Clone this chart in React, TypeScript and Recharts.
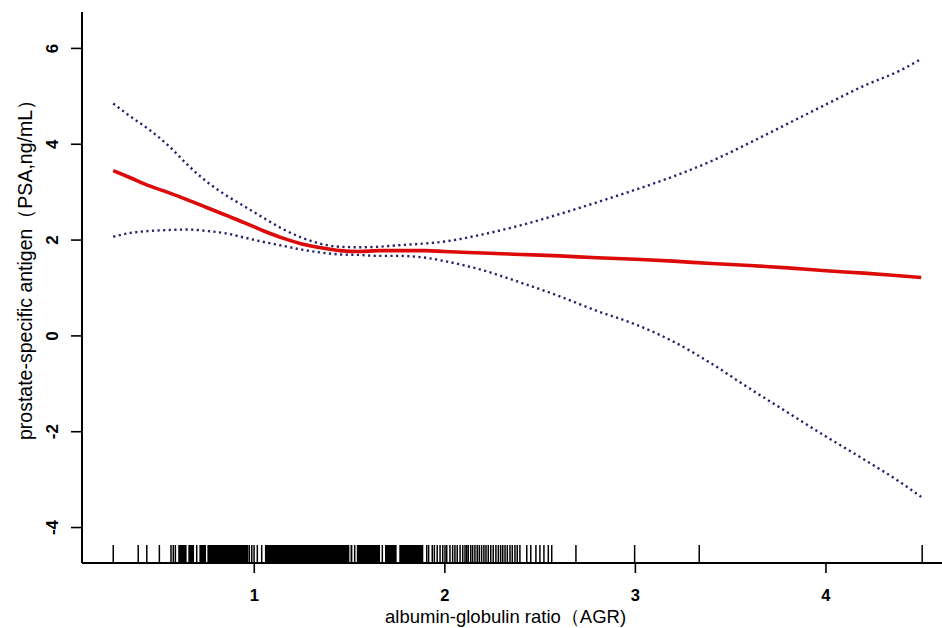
import { ComposedChart, Line, ReferenceArea, Scatter, XAxis, YAxis } from "recharts";

const agr = [0.26, 0.35, 0.45, 0.55, 0.65, 0.75, 0.85, 0.95, 1.05, 1.15, 1.25, 1.35, 1.45, 1.55, 1.65, 1.75, 1.9, 2.0, 2.2, 2.4, 2.6, 2.8, 3.0, 3.2, 3.4, 3.6, 3.8, 4.0, 4.2, 4.4, 4.5];
const fitted = [3.45, 3.3, 3.13, 2.99, 2.84, 2.68, 2.52, 2.36, 2.19, 2.04, 1.92, 1.84, 1.78, 1.76, 1.78, 1.78, 1.78, 1.76, 1.73, 1.7, 1.67, 1.63, 1.6, 1.56, 1.51, 1.47, 1.42, 1.36, 1.31, 1.25, 1.22];
const upper = [4.85, 4.58, 4.3, 3.97, 3.57, 3.22, 2.94, 2.7, 2.46, 2.23, 2.05, 1.92, 1.86, 1.85, 1.86, 1.89, 1.93, 1.97, 2.12, 2.31, 2.54, 2.79, 3.05, 3.33, 3.65, 4.03, 4.43, 4.83, 5.22, 5.56, 5.78];
const lower = [2.07, 2.15, 2.19, 2.21, 2.22, 2.19, 2.14, 2.05, 1.96, 1.88, 1.8, 1.74, 1.7, 1.69, 1.67, 1.67, 1.63, 1.56, 1.37, 1.11, 0.83, 0.52, 0.24, -0.12, -0.58, -1.1, -1.6, -2.1, -2.58, -3.08, -3.36];

// rug: single observations and the stretches where ticks merge into solid black
const rugTicks = [0.26, 0.391, 0.436, 0.502, 0.563, 0.575, 0.586, 0.698, 0.974, 0.987, 0.999, 1.016, 1.039, 1.672, 1.905, 1.915, 1.934, 1.945, 1.96, 1.975, 1.989, 2.001, 2.01, 2.027, 2.041, 2.053, 2.065, 2.08, 2.094, 2.106, 2.115, 2.123, 2.136, 2.146, 2.158, 2.17, 2.181, 2.193, 2.205, 2.216, 2.228, 2.241, 2.254, 2.268, 2.281, 2.293, 2.304, 2.316, 2.328, 2.342, 2.354, 2.368, 2.38, 2.394, 2.43, 2.451, 2.478, 2.499, 2.52, 2.543, 2.561, 2.688, 2.996, 3.335, 4.505];
const rugBlocks: [number, number][] = [
  [0.601, 0.645], [0.654, 0.684], [0.712, 0.747], [0.754, 0.969], [1.056, 1.499],
  [1.505, 1.515], [1.523, 1.531], [1.538, 1.66], [1.686, 1.747], [1.761, 1.887],
];

const xTicks = [1, 2, 3, 4];
const yTicks = [-4, -2, 0, 2, 4, 6];

const X_MIN = 0.096;
const X_MAX = 4.609;
const Y_MIN = -4.74;
const Y_MAX = 6.76;

const FONT = "'Liberation Sans', Arial, sans-serif";
const CI_COLOR = "#25256e";

const data = agr.map((x, i) => ({ x, fit: fitted[i], hi: upper[i], lo: lower[i] }));
const rugData = rugTicks.map((x) => ({ x, y: Y_MIN }));

function YTick({ x, y, payload }: any) {
  return (
    <text
      x={x}
      y={y}
      transform={`rotate(-90, ${x}, ${y})`}
      textAnchor="middle"
      fontFamily={FONT}
      fontWeight="bold"
      fontSize={17}
      fill="#000"
    >
      {payload.value}
    </text>
  );
}

function XTick({ x, y, payload }: any) {
  return (
    <text x={x} y={y} dy="0.71em" textAnchor="middle" fontFamily={FONT} fontWeight="bold" fontSize={16.5} fill="#000">
      {payload.value}
    </text>
  );
}

function RugTick(props: any) {
  const { cx, cy } = props;
  return <line x1={cx} x2={cx} y1={cy} y2={cy - 18} stroke="#000" strokeWidth={1.5} />;
}

function RugBlock(props: any) {
  const { x, y, width, height } = props;
  return <rect x={x} y={y + height - 18} width={Math.max(width, 1)} height={18} fill="#000" />;
}

export default function App() {
  return (
    <div style={{ position: "absolute", left: 0, top: 0, width: 942, height: 628, background: "#fff" }}>
      <ComposedChart width={942} height={628} data={data} margin={{ top: 12, right: 0, bottom: 0, left: 0 }}>
        <XAxis
          type="number"
          dataKey="x"
          domain={[X_MIN, X_MAX]}
          allowDataOverflow
          ticks={xTicks}
          interval={0}
          height={65}
          tickSize={10}
          tickMargin={16}
          tick={<XTick />}
          axisLine={{ stroke: "#000", strokeWidth: 2 }}
          tickLine={{ stroke: "#000", strokeWidth: 1.6 }}
        />
        <YAxis
          type="number"
          domain={[Y_MIN, Y_MAX]}
          allowDataOverflow
          ticks={yTicks}
          interval={0}
          width={82}
          tickSize={11}
          tickMargin={13}
          tick={<YTick />}
          axisLine={{ stroke: "#000", strokeWidth: 2 }}
          tickLine={{ stroke: "#000", strokeWidth: 1.6 }}
        />
        {rugBlocks.map(([a, b]) => (
          <ReferenceArea key={a} x1={a} x2={b} y1={Y_MIN} y2={Y_MAX} shape={<RugBlock />} />
        ))}
        <Scatter data={rugData} dataKey="y" shape={<RugTick />} isAnimationActive={false} />
        <Line
          type="monotone"
          dataKey="hi"
          stroke={CI_COLOR}
          strokeWidth={2.4}
          strokeDasharray="2.2 3.4"
          dot={false}
          activeDot={false}
          isAnimationActive={false}
        />
        <Line
          type="monotone"
          dataKey="lo"
          stroke={CI_COLOR}
          strokeWidth={2.4}
          strokeDasharray="2.2 3.4"
          dot={false}
          activeDot={false}
          isAnimationActive={false}
        />
        <Line
          type="monotone"
          dataKey="fit"
          stroke="#dd0a0a"
          strokeWidth={3.6}
          dot={false}
          activeDot={false}
          isAnimationActive={false}
        />
      </ComposedChart>
      <svg width={942} height={628} style={{ position: "absolute", left: 0, top: 0, pointerEvents: "none" }}>
        <text x={385} y={623} fontFamily={FONT} fontSize={18.5} fill="#000">
          albumin-globulin ratio（AGR)
        </text>
        <text transform="translate(32, 440) rotate(-90)" x={0} y={0} fontFamily={FONT} fontSize={19.5} fill="#000">
          prostate-specific antigen（PSA,ng/mL）
        </text>
      </svg>
    </div>
  );
}
